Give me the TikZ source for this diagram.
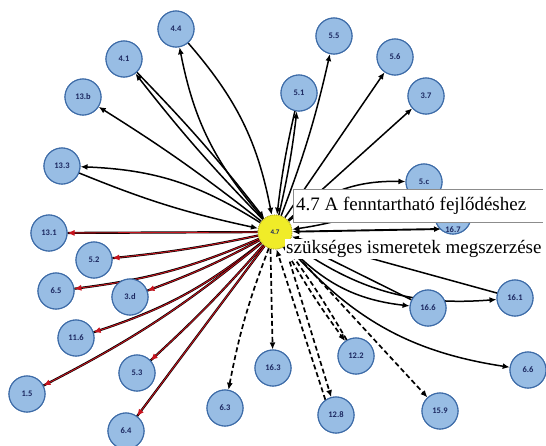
\documentclass[tikz,border=0pt]{standalone}
\usepackage{fontspec}
\setmainfont{Liberation Serif}
\newfontfamily\labelfont{Carlito}
\usetikzlibrary{arrows.meta}

\definecolor{nodefill}{RGB}{152,189,228}
\definecolor{nodeline}{RGB}{62,108,168}
\definecolor{labelink}{RGB}{28,40,96}
\definecolor{hubfill}{RGB}{240,236,40}
\definecolor{hubline}{RGB}{180,170,40}
\definecolor{redcore}{RGB}{200,20,30}
\definecolor{framegray}{RGB}{140,140,140}

\tikzset{
  goal/.style={circle, minimum size=36pt, inner sep=0pt, fill=nodefill,
    draw=nodeline, line width=1.1pt, text=labelink,
    font=\labelfont\bfseries\fontsize{8.5}{9}\selectfont},
  hub/.style={circle, minimum size=34pt, inner sep=0pt, fill=hubfill,
    draw=hubline, densely dotted, line width=0.9pt, text=labelink,
    font=\labelfont\bfseries\fontsize{7}{8}\selectfont},
  tip/.style={-{Latex[length=7pt,width=6pt]}},
  edge/.style={tip, draw=black, line width=1.5pt},
  dashedge/.style={tip, draw=black, line width=1.7pt, dash pattern=on 5pt off 3pt},
  rededge/.style={-{Latex[length=7pt,width=6pt]}, draw=redcore, line width=0.9pt,
    preaction={draw=black, line width=2.2pt, -}},
  caption/.style={font=\fontsize{19}{22}\selectfont, inner sep=1pt, anchor=west},
}

\begin{document}
\begin{tikzpicture}[x=1pt,y=1pt]
\useasboundingbox (0,0) rectangle (546,-445);

% centre and surrounding targets
\node[hub]  (c47)  at (275,-232) {4.7};
\node[goal] (n44)  at (176,-29)  {4.4};
\node[goal] (n41)  at (124,-59)  {4.1};
\node[goal] (n13b) at (83,-97)   {13.b};
\node[goal] (n133) at (62,-166)  {13.3};
\node[goal] (n55)  at (334,-36)  {5.5};
\node[goal] (n56)  at (395,-57)  {5.6};
\node[goal] (n51)  at (299,-93)  {5.1};
\node[goal] (n37)  at (426,-96)  {3.7};
\node[goal] (n5c)  at (424,-182) {5.c};
\node[goal] (n167) at (453,-216) {};
\node[goal] (n161) at (515,-298) {16.1};
\node[goal] (n166) at (428,-308) {16.6};
\node[goal] (n66)  at (528,-370) {6.6};
\node[goal] (n122) at (356,-356) {12.2};
\node[goal] (n159) at (440,-411) {15.9};
\node[goal] (n128) at (336,-415) {12.8};
\node[goal] (n163) at (273,-368) {16.3};
\node[goal] (n63)  at (225,-408) {6.3};
\node[goal] (n64)  at (126,-431) {6.4};
\node[goal] (n15)  at (27,-394)  {1.5};
\node[goal] (n53)  at (137,-373) {5.3};
\node[goal] (n116) at (76,-338)  {11.6};
\node[goal] (n3d)  at (130,-297) {3.d};
\node[goal] (n65)  at (56,-291)  {6.5};
\node[goal] (n52)  at (94,-260)  {5.2};
\node[goal] (n131) at (49,-233)  {13.1};
\coordinate (p167) at (441,-229);

% connectors are drawn first, then the circles are redrawn over them
% solid black links
\draw[edge] (c47) to[bend left=15] (n44);
\draw[edge] (n44) to[bend left=15] (c47);
\draw[edge] (c47) to[bend left=3] (n41);
\draw[edge] (n41) to[bend left=3] (c47);
\draw[edge] (c47) to[bend right=3] (n13b);
\draw[edge] (c47) to[bend right=15] (n133);
\draw[edge] (n133) to[bend right=5] (c47);
\draw[edge] (c47) to[bend right=3] (n51);
\draw[edge] (n51) to[bend right=3] (c47);
\draw[edge] (c47) to[bend right=4] (n55);
\draw[edge] (c47) -- (n56);
\draw[edge] (c47) -- (n37);
\draw[edge] (c47) to[bend left=20] (n5c);
\draw[edge] (n5c) to[bend left=10] (c47);
\draw[edge, line width=1.9pt, {Latex[length=7pt,width=6pt]}-{Latex[length=7pt,width=6pt]}] (c47) -- (p167);
\draw[edge] (c47) to[bend right=20] (n161);
\draw[edge] (n161) -- (c47);
\draw[edge] (c47) to[bend right=20] (n166);
\draw[edge] (n166) -- (c47);
\draw[edge] (c47) to[bend right=20] (n66);
% dashed links
\draw[dashedge] (c47) to[bend right=3] (n122);
\draw[dashedge] (n122) to[bend right=3] (c47);
\draw[dashedge] (c47) -- (n159);
\draw[dashedge] (c47.-55) -- (n128.105);
\draw[dashedge] (n128.125) -- (c47.-85);
\draw[dashedge] (c47.-105) -- (n163);
\draw[dashedge] (c47) to[bend right=5] (n63);
% red links
\draw[rededge] (c47) -- (n131);
\draw[rededge] (c47) to[bend left=3] (n52);
\draw[rededge] (c47) to[bend left=8] (n65);
\draw[rededge] (c47) to[bend left=4] (n3d);
\draw[rededge] (c47) to[bend left=10] (n116);
\draw[rededge] (c47) to[bend left=6] (n15);
\draw[rededge] (c47) to[bend left=3] (n53);
\draw[rededge] (c47) -- (n64);

% circles on top of the connectors
\foreach \n/\t in {n44/4.4,n41/4.1,n13b/13.b,n133/13.3,n55/5.5,n56/5.6,n51/5.1,
  n37/3.7,n5c/5.c,n161/16.1,n166/16.6,n66/6.6,n122/12.2,n159/15.9,n128/12.8,
  n163/16.3,n63/6.3,n64/6.4,n15/1.5,n53/5.3,n116/11.6,n3d/3.d,n65/6.5,
  n52/5.2,n131/13.1}
  \node[goal] at (\n) {\t};
\node[goal] at (n167) {};
\node[text=labelink, font=\labelfont\bfseries\fontsize{8.5}{9}\selectfont] (t167) at (453,-230) {16.7};
\node[hub] at (c47) {4.7};

% title overlay
\fill[white] (293,-189) rectangle (546,-222);
\draw[framegray, line width=1pt] (543,-189) -- (293,-189) -- (293,-222) -- (543,-222);
\node[caption] (title1) at (295,-206) {4.7 A fenntartható fejlődéshez};
\node[caption, fill=white] (title2) at (285,-249) {szükséges ismeretek megszerzése};
\end{tikzpicture}
\end{document}
